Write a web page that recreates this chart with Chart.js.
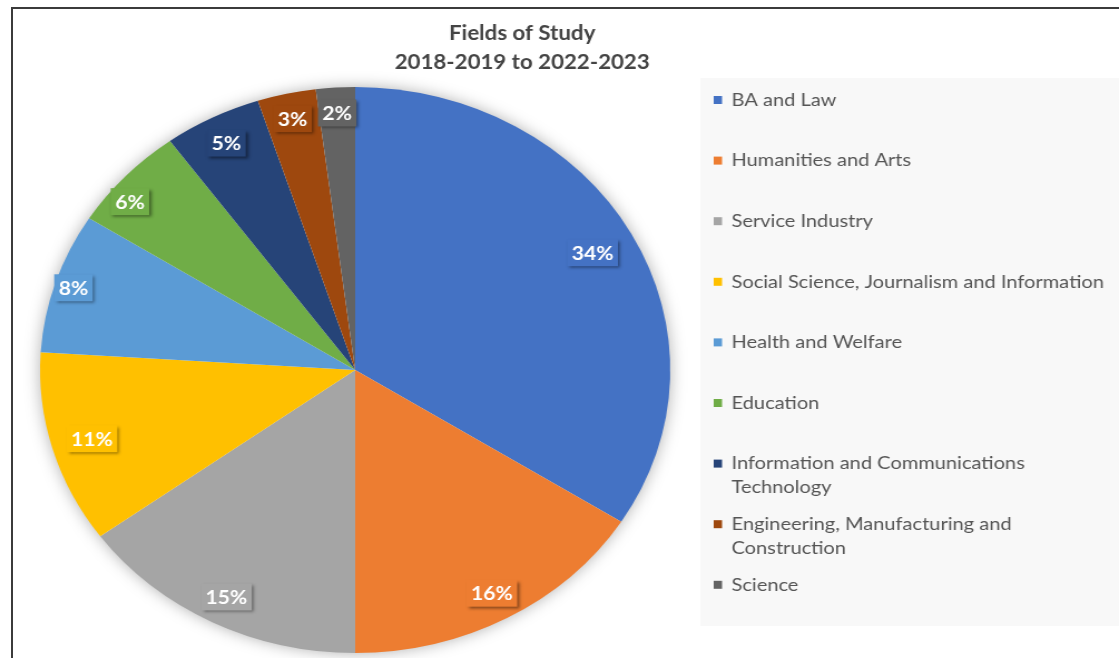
<!DOCTYPE html>
<html>
<head>
<meta charset="utf-8">
<script src="https://cdn.jsdelivr.net/npm/chart.js@4.4.1/dist/chart.umd.min.js"></script>
<style>
  html, body { margin: 0; padding: 0; background: #fff; overflow: hidden; }
  .frame { position: absolute; left: 11px; top: 7px; width: 1200px; height: 700px;
           border-top: 2px solid #3b3b3b; border-left: 2px solid #3b3b3b; }
  .wrap { position: absolute; left: 0; top: 0; width: 1005px; height: 658px;
          transform: scaleX(1.1134); transform-origin: 0 0; }
</style>
</head>
<body>
<div class="wrap"><canvas id="myChart"></canvas></div>
<div class="frame"></div>
<script>
// chart data
let fields = [
    "BA and Law",
    "Humanities and Arts",
    "Service Industry",
    "Social Science, Journalism and Information",
    "Health and Welfare",
    "Education",
    ["Information and Communications", "Technology"],
    ["Engineering, Manufacturing and", "Construction"],
    "Science"
];
let shares = [34, 16, 15, 11, 8, 6, 5, 3, 2];
let titleLines = ["Fields of Study", "2018-2019 to 2022-2023"];

let sliceColors = ["#4472C4", "#ED7D31", "#A5A5A5", "#FFC000", "#5B9BD5",
    "#70AD47", "#264478", "#9E480E", "#636363"];
// how far out each callout sits (fraction of radius), like Excel's best fit
let labelReach = [0.86, 0.9, 0.9, 0.87, 0.94, 0.93, 0.9, 0.91, 0.91];

const FONT = "Lato, 'Open Sans', sans-serif";

// soft glow behind the pie
let pieShadow = {
    id: "pieShadow",
    beforeDatasetsDraw(chart) {
        let arc = chart.getDatasetMeta(0).data[0];
        if (!arc) return;
        let ctx = chart.ctx;
        ctx.save();
        ctx.shadowColor = "rgba(0,0,0,0.35)";
        ctx.shadowBlur = 16;
        ctx.fillStyle = "#fff";
        ctx.beginPath();
        ctx.arc(arc.x, arc.y, arc.outerRadius - 1, 0, Math.PI * 2);
        ctx.fill();
        ctx.restore();
    }
};

// percent callouts inside the slices
let sliceLabels = {
    id: "sliceLabels",
    afterDatasetsDraw(chart) {
        let ctx = chart.ctx;
        let meta = chart.getDatasetMeta(0);
        ctx.save();
        ctx.font = "bold 19px " + FONT;
        ctx.textAlign = "center";
        ctx.textBaseline = "middle";
        meta.data.forEach((arc, i) => {
            let mid = (arc.startAngle + arc.endAngle) / 2;
            // small counter-clockwise nudge for the 6% label, as in the original
            if (i === 5) mid -= 0.06;
            let r = arc.outerRadius * labelReach[i];
            let x = arc.x + Math.cos(mid) * r;
            let y = arc.y + Math.sin(mid) * r;
            let text = shares[i] + "%";
            let w = ctx.measureText(text).width + 8;
            let h = 27;
            ctx.save();
            ctx.shadowColor = "rgba(0,0,0,0.45)";
            ctx.shadowBlur = 3;
            ctx.shadowOffsetX = 2;
            ctx.shadowOffsetY = 2;
            ctx.fillStyle = sliceColors[i];
            ctx.fillRect(x - w / 2, y - h / 2, w, h);
            ctx.restore();
            ctx.fillStyle = "#ffffff";
            ctx.fillText(text, x, y + 1);
        });
        ctx.restore();
    }
};

// title and legend panel on the right
let sidePanel = {
    id: "sidePanel",
    beforeDraw(chart) {
        let ctx = chart.ctx;
        ctx.save();
        ctx.fillStyle = "#f8f8f8";
        ctx.fillRect(629, 78, 376, 548);
        ctx.restore();
    },
    afterDraw(chart) {
        let ctx = chart.ctx;
        ctx.save();
        ctx.fillStyle = "#444444";
        ctx.font = "bold 20px " + FONT;
        ctx.textAlign = "center";
        ctx.textBaseline = "middle";
        titleLines.forEach((t, i) => ctx.fillText(t, 469, 34 + i * 29));

        ctx.font = "18px " + FONT;
        ctx.textAlign = "left";
        fields.forEach((label, i) => {
            let y = 100 + i * 60.6;
            ctx.fillStyle = sliceColors[i];
            ctx.fillRect(641, y - 4, 7.5, 8);
            ctx.fillStyle = "#555555";
            let lines = Array.isArray(label) ? label : [label];
            lines.forEach((l, j) => ctx.fillText(l, 657, y + j * 24));
        });
        ctx.restore();
    }
};

let ctx = document.getElementById("myChart").getContext("2d");
let chartOne = new Chart(ctx, {
    type: "pie",
    data: {
        labels: fields.map(f => Array.isArray(f) ? f.join(" ") : f),
        datasets: [{
            data: shares,
            backgroundColor: sliceColors,
            borderWidth: 0
        }]
    },
    options: {
        responsive: true,
        maintainAspectRatio: false,
        animation: false,
        layout: { padding: { left: 36, right: 403, top: 87, bottom: 5 } },
        plugins: {
            legend: { display: false },
            title: { display: false },
            tooltip: { enabled: false }
        }
    },
    plugins: [pieShadow, sliceLabels, sidePanel]
});
</script>
</body>
</html>
